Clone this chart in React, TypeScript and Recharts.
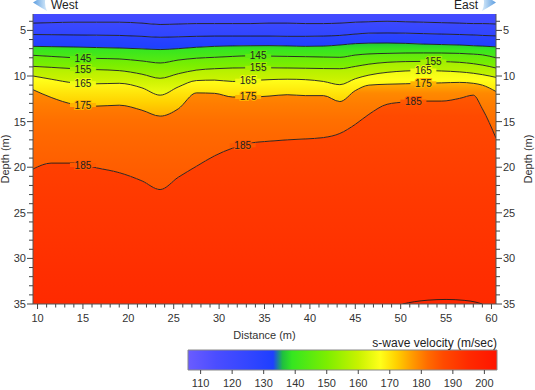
import React from "react";
import {
  Area,
  ComposedChart,
  Line,
  ReferenceArea,
  ReferenceDot,
  XAxis,
  YAxis,
} from "recharts";

const FONT = "'Liberation Sans', Arial, sans-serif";
const TOP = 3.2;
const BOTTOM = 35;

// distance along the profile (m)
const distance = [
  9.5, 11.5, 14, 16.5, 19, 21.5, 23.5, 25.5, 27.5, 29.5, 31.5, 33.5, 35.5, 37.5,
  39.5, 41.5, 43.3, 45, 46.5, 48.5, 50.5, 52.5, 54.5, 56.5, 58, 59, 60.5,
];

// depth (m) of each velocity contour at the distances above
const depth115 = [4.2, 4.15, 4.1, 4.1, 4.1, 4.2, 4.35, 4.3, 4.25, 4.25, 4.25, 4.25, 4.2, 4.2, 4.25, 4.25, 4.2, 4.1, 4.05, 4.0, 4.05, 4.1, 4.15, 4.2, 4.25, 4.25, 4.3];
const depth125 = [5.45, 5.47, 5.5, 5.52, 5.55, 5.65, 5.75, 5.7, 5.65, 5.62, 5.62, 5.62, 5.62, 5.65, 5.65, 5.62, 5.55, 5.4, 5.3, 5.28, 5.3, 5.35, 5.4, 5.45, 5.5, 5.55, 5.6];
const depth135 = [6.75, 6.78, 6.82, 6.88, 6.93, 7.02, 7.1, 7.0, 6.85, 6.75, 6.7, 6.68, 6.67, 6.7, 6.75, 6.72, 6.6, 6.45, 6.4, 6.38, 6.42, 6.5, 6.55, 6.6, 6.68, 6.72, 6.8];
const depth145 = [7.73, 7.85, 8.0, 8.07, 8.13, 8.35, 8.57, 8.25, 8.05, 7.95, 7.85, 7.78, 7.82, 7.85, 7.88, 7.92, 7.95, 7.7, 7.58, 7.52, 7.48, 7.47, 7.48, 7.52, 7.6, 7.68, 8.0];
const depth155 = [8.94, 9.05, 9.2, 9.3, 9.41, 9.8, 10.25, 9.75, 9.35, 9.2, 9.12, 9.1, 9.1, 9.12, 9.15, 9.18, 9.2, 8.95, 8.7, 8.5, 8.42, 8.4, 8.42, 8.5, 8.65, 8.8, 9.12];
const depth165 = [10.0, 10.35, 10.75, 10.85, 10.8, 11.3, 12.1, 11.2, 10.5, 10.45, 10.6, 10.5, 10.4, 10.35, 10.4, 10.6, 10.95, 10.3, 9.9, 9.6, 9.45, 9.4, 9.45, 9.55, 9.7, 9.85, 10.15];
const depth175 = [11.5, 12.35, 13.1, 13.3, 13.2, 13.75, 14.4, 13.6, 11.85, 11.9, 12.3, 12.3, 12.2, 12.05, 12.15, 12.15, 12.8, 11.6, 11.0, 10.9, 10.85, 10.8, 10.75, 10.7, 10.8, 11.0, 11.7];
const depth185 = [20.2, 19.55, 19.55, 20.07, 20.6, 21.5, 22.45, 21.1, 19.9, 18.75, 17.9, 17.35, 17.15, 17.0, 16.9, 16.75, 16.3, 15.3, 14.2, 13.1, 12.85, 12.75, 12.75, 12.45, 12.1, 13.6, 16.8];

const levels = [115, 125, 135, 145, 155, 165, 175, 185];
const contourDepths = [depth115, depth125, depth135, depth145, depth155, depth165, depth175, depth185];

// small closed 195 contour touching the bottom
const distance195 = [50.2, 51.5, 53, 55, 57, 58.3, 59.0];
const depth195 = [35, 34.75, 34.58, 34.5, 34.6, 34.8, 35];

// where the contour labels sit
const labelLevel = [145, 145, 155, 155, 155, 165, 165, 165, 175, 175, 175, 185, 185, 185];
const labelDistance = [15, 34.3, 15, 34.3, 53.6, 15, 33.2, 52.5, 15, 33.2, 52.5, 15, 32.6, 51.4];

const xTicks = Array.from({ length: 51 }, (_, i) => 10 + i);
const yTicks = Array.from({ length: 32 }, (_, i) => 4 + i);
const velocityTicks = [110, 120, 130, 140, 150, 160, 170, 180, 190, 200];

// colour scale of the legend
const rampVelocity = [106, 115, 125, 133, 136, 139, 150, 160, 167, 172, 177, 182, 187, 195, 204];
const rampColor = [
  "#6a5cff", "#4b4dff", "#3346ff", "#1e3fff", "#1fbf40", "#35e620", "#7cee00",
  "#c8f200", "#ffff1a", "#ffd200", "#ff9c00", "#ff6c00", "#ff4a00", "#ff2a00", "#ff1500",
];

// velocity shown at the top / bottom of each coloured band, top band first
const bandTopVelocity = [118, 121, 127, 136.5, 145, 155, 165, 175, 185];
const bandBottomVelocity = [121, 127, 133.5, 145, 155, 165, 175, 185, 195];
const bandEase = [1, 1, 1, 1, 1, 1, 1, 0.4, 0.7];

function hexToRgb(h: string) {
  return [1, 3, 5].map((i) => parseInt(h.slice(i, i + 2), 16));
}

function colorAt(v: number) {
  if (v <= rampVelocity[0]) return rampColor[0];
  for (let i = 0; i < rampVelocity.length - 1; i++) {
    const a = rampVelocity[i];
    const b = rampVelocity[i + 1];
    if (v <= b) {
      const t = (v - a) / (b - a);
      const ca = hexToRgb(rampColor[i]);
      const cb = hexToRgb(rampColor[i + 1]);
      const c = ca.map((x, k) => Math.round(x + (cb[k] - x) * t));
      return `rgb(${c[0]},${c[1]},${c[2]})`;
    }
  }
  return rampColor[rampColor.length - 1];
}

const rows = distance.map((d, i) => {
  const row: Record<string, number> = { d };
  levels.forEach((lvl, k) => {
    row[`c${lvl}`] = contourDepths[k][i];
  });
  return row;
});

const rows195 = distance195.map((d, i) => ({ d, c195: depth195[i] }));

const edges: (number | null)[] = [null, ...levels, null];
const bands = edges.slice(0, -1).map((upper, i) => ({
  id: `band${i}`,
  upper,
  lower: edges[i + 1],
  vTop: bandTopVelocity[i],
  vBottom: bandBottomVelocity[i],
  ease: bandEase[i],
}));

function contourAt(level: number, d: number) {
  const arr = contourDepths[levels.indexOf(level)];
  let i = 0;
  while (i < distance.length - 2 && distance[i + 1] < d) i++;
  const t = (d - distance[i]) / (distance[i + 1] - distance[i]);
  const depth = arr[i] + (arr[i + 1] - arr[i]) * t;
  const angle =
    (Math.atan2(arr[i + 1] - arr[i], distance[i + 1] - distance[i]) * 180) / Math.PI;
  return { depth, angle };
}

function ContourLabel(props: any) {
  const { viewBox, text, angle, halo } = props;
  if (!viewBox) return null;
  const cx = viewBox.x + (viewBox.width || 0) / 2;
  const cy = viewBox.y + (viewBox.height || 0) / 2;
  return (
    <g transform={`rotate(${angle} ${cx} ${cy})`}>
      <rect x={cx - 13} y={cy - 2} width={26} height={4} fill={halo} />
      <text
        x={cx}
        y={cy}
        textAnchor="middle"
        dominantBaseline="central"
        fontSize={10}
        fontFamily={FONT}
        fill="#222"
        stroke={halo}
        strokeWidth={2}
        paintOrder="stroke"
      >
        {text}
      </text>
    </g>
  );
}

function BottomTick({ x, y, payload }: any) {
  const major = payload.value % 5 === 0;
  return (
    <g>
      <line x1={x} x2={x} y1={y} y2={y + (major ? 5 : 3.5)} stroke="#444" />
      {major && (
        <text x={x} y={y + 14} textAnchor="middle" dominantBaseline="central" fontSize={11} fontFamily={FONT} fill="#333">
          {payload.value}
        </text>
      )}
    </g>
  );
}

function LeftTick({ x, y, payload }: any) {
  const major = payload.value % 5 === 0;
  return (
    <g>
      <line x1={x - (major ? 6 : 4)} x2={x} y1={y} y2={y} stroke="#444" />
      {major && (
        <text x={x - 7} y={y} textAnchor="end" dominantBaseline="central" fontSize={11} fontFamily={FONT} fill="#333">
          {payload.value}
        </text>
      )}
    </g>
  );
}

function RightTick({ x, y, payload }: any) {
  const major = payload.value % 5 === 0;
  return (
    <g>
      <line x1={x} x2={x + (major ? 6 : 4)} y1={y} y2={y} stroke="#444" />
      {major && (
        <text x={x + 7} y={y} textAnchor="start" dominantBaseline="central" fontSize={11} fontFamily={FONT} fill="#333">
          {payload.value}
        </text>
      )}
    </g>
  );
}

function VelocityTick({ x, y, payload }: any) {
  return (
    <g>
      <line x1={x} x2={x} y1={y} y2={y + 4} stroke="#444" />
      <text x={x} y={y + 13} textAnchor="middle" dominantBaseline="central" fontSize={11} fontFamily={FONT} fill="#333">
        {payload.value}
      </text>
    </g>
  );
}

const cbarRows = [
  { v: 106, h: 1 },
  { v: 204, h: 1 },
];

export default function App() {
  return (
    <div
      style={{
        position: "fixed",
        left: 0,
        top: 0,
        width: 535,
        height: 390,
        background: "#fff",
        fontFamily: FONT,
        overflow: "hidden",
      }}
    >
      <div style={{ position: "absolute", left: 0, top: 0 }}>
        <ComposedChart
          width={535}
          height={345}
          data={rows}
          margin={{ top: 14, right: 0, bottom: 0, left: 0 }}
        >
          <defs>
            {bands.map((b) => (
              <linearGradient key={b.id} id={b.id} x1="0" y1="0" x2="0" y2="1">
                {[0, 0.1, 0.2, 0.35, 0.5, 0.7, 0.85, 1].map((f) => (
                  <stop
                    key={f}
                    offset={f}
                    stopColor={colorAt(b.vTop + (b.vBottom - b.vTop) * Math.pow(f, b.ease))}
                  />
                ))}
              </linearGradient>
            ))}
          </defs>
          <XAxis
            dataKey="d"
            type="number"
            domain={[9.5, 60.5]}
            allowDataOverflow
            ticks={xTicks}
            interval={0}
            tickSize={0}
            tickMargin={0}
            tickLine={false}
            tick={<BottomTick />}
            axisLine={{ stroke: "#555" }}
            height={41}
            label={{
              value: "Distance (m)",
              position: "insideBottom",
              offset: 6,
              style: { fontSize: 11, fill: "#333", fontFamily: FONT },
            }}
          />
          <XAxis
            xAxisId="top"
            orientation="top"
            dataKey="d"
            type="number"
            domain={[9.5, 60.5]}
            allowDataOverflow
            height={0}
            tick={false}
            tickLine={false}
            axisLine={{ stroke: "#999" }}
          />
          <YAxis
            yAxisId="l"
            type="number"
            reversed
            domain={[TOP, BOTTOM]}
            allowDataOverflow
            ticks={yTicks}
            interval={0}
            tickSize={0}
            tickMargin={0}
            tickLine={false}
            tick={<LeftTick />}
            axisLine={{ stroke: "#555" }}
            width={33}
            label={{
              value: "Depth (m)",
              angle: -90,
              position: "insideLeft",
              offset: 5,
              style: { textAnchor: "middle", fontSize: 11, fill: "#333", fontFamily: FONT },
            }}
          />
          <YAxis
            yAxisId="r"
            orientation="right"
            type="number"
            reversed
            domain={[TOP, BOTTOM]}
            allowDataOverflow
            ticks={yTicks}
            interval={0}
            tickSize={0}
            tickMargin={0}
            tickLine={false}
            tick={<RightTick />}
            axisLine={{ stroke: "#555" }}
            width={39}
            label={{
              value: "Depth (m)",
              angle: -90,
              position: "insideRight",
              offset: 7,
              style: { textAnchor: "middle", fontSize: 11, fill: "#333", fontFamily: FONT },
            }}
          />
          {bands.map((b) => (
            <Area
              key={b.id}
              yAxisId="l"
              type="monotone"
              dataKey={(r: any) => [
                b.upper == null ? TOP : r[`c${b.upper}`],
                b.lower == null ? BOTTOM : r[`c${b.lower}`],
              ]}
              fill={`url(#${b.id})`}
              fillOpacity={1}
              stroke="none"
              isAnimationActive={false}
            />
          ))}
          <Area
            yAxisId="l"
            data={rows195}
            type="monotone"
            dataKey={(r: any) => [r.c195, BOTTOM]}
            fill={colorAt(196)}
            fillOpacity={1}
            stroke="none"
            isAnimationActive={false}
          />
          {levels.map((lvl) => (
            <Line
              key={lvl}
              yAxisId="l"
              type="monotone"
              dataKey={`c${lvl}`}
              stroke="#1c1c1c"
              strokeWidth={0.9}
              dot={false}
              activeDot={false}
              isAnimationActive={false}
            />
          ))}
          <Line
            yAxisId="l"
            data={rows195}
            type="monotone"
            dataKey="c195"
            stroke="#1c1c1c"
            strokeWidth={0.9}
            dot={false}
            activeDot={false}
            isAnimationActive={false}
          />
          {labelLevel.map((lvl, i) => {
            const { depth, angle } = contourAt(lvl, labelDistance[i]);
            return (
              <ReferenceDot
                key={`lab${i}`}
                yAxisId="l"
                x={labelDistance[i]}
                y={depth}
                r={0}
                fill="none"
                stroke="none"
                label={<ContourLabel text={String(lvl)} angle={angle} halo={colorAt(lvl)} />}
              />
            );
          })}
        </ComposedChart>
      </div>

      <div style={{ position: "absolute", left: 0, top: 340 }}>
        <ComposedChart
          width={535}
          height={50}
          data={cbarRows}
          margin={{ top: 10, right: 38, bottom: 0, left: 188 }}
        >
          <defs>
            <linearGradient id="cbar" x1="0" y1="0" x2="1" y2="0">
              {rampVelocity.map((v, i) => (
                <stop key={v} offset={(v - 106) / 98} stopColor={rampColor[i]} />
              ))}
            </linearGradient>
          </defs>
          <XAxis
            dataKey="v"
            type="number"
            domain={[106, 204]}
            allowDataOverflow
            ticks={velocityTicks}
            interval={0}
            tickSize={0}
            tickMargin={0}
            tickLine={false}
            axisLine={false}
            tick={<VelocityTick />}
            height={20}
          />
          <YAxis hide domain={[0, 1]} type="number" />
          <Area
            type="linear"
            dataKey="h"
            fill="url(#cbar)"
            fillOpacity={1}
            stroke="none"
            isAnimationActive={false}
          />
          <ReferenceArea x1={106} x2={204} y1={0} y2={1} fill="none" stroke="#888" ifOverflow="visible" />
        </ComposedChart>
      </div>

      <svg
        width={535}
        height={390}
        style={{ position: "absolute", left: 0, top: 0, pointerEvents: "none" }}
      >
        <defs>
          <linearGradient id="arrowL" x1="0" y1="0" x2="1" y2="0">
            <stop offset="0" stopColor="#5c9de0" />
            <stop offset="1" stopColor="#d8ebfa" />
          </linearGradient>
          <linearGradient id="arrowR" x1="1" y1="0" x2="0" y2="0">
            <stop offset="0" stopColor="#5c9de0" />
            <stop offset="1" stopColor="#d8ebfa" />
          </linearGradient>
        </defs>
        <path d="M33,2.5 Q40,-2 47,-6 Q43,2.5 47,11 Q40,7 33,2.5 Z" fill="url(#arrowL)" />
        <text x={51} y={8.5} fontSize={12} fontFamily={FONT} fill="#222">
          West
        </text>
        <path d="M496,2.5 Q489,-2 482,-6 Q486,2.5 482,11 Q489,7 496,2.5 Z" fill="url(#arrowR)" />
        <text x={478} y={8.5} textAnchor="end" fontSize={12} fontFamily={FONT} fill="#222">
          East
        </text>
        <text x={497} y={342.5} textAnchor="end" dominantBaseline="central" fontSize={12} fontFamily={FONT} fill="#222">
          s-wave velocity (m/sec)
        </text>
      </svg>
    </div>
  );
}
